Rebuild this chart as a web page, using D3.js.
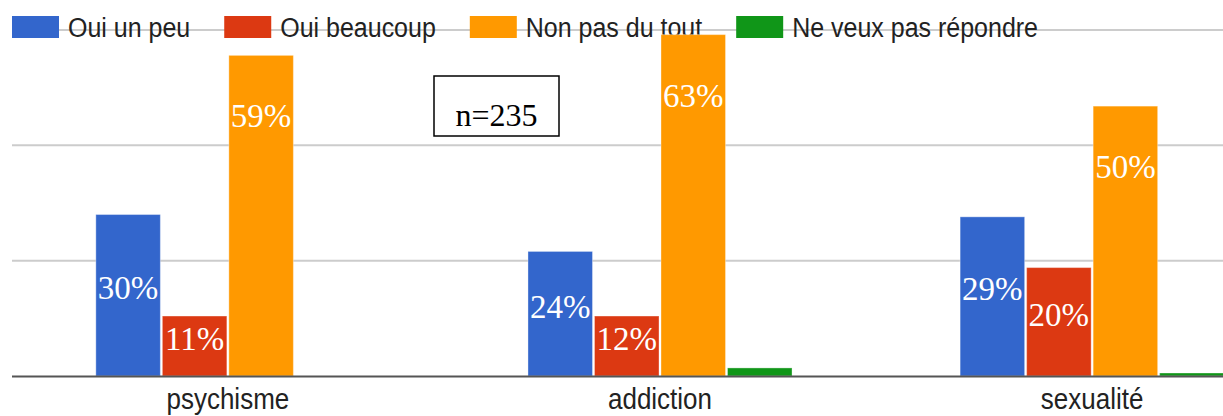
<!DOCTYPE html>
<html>
<head>
<meta charset="utf-8">
<script src="https://cdn.jsdelivr.net/npm/d3@7"></script>
<style>
  body { margin: 0; background: #fff; }
  svg { display: block; }
</style>
</head>
<body>
<svg id="chart"></svg>
<script>
// Categories and series (bar heights are respondent counts, n=235)
const categories = ["psychisme", "addiction", "sexualité"];
const seriesNames = ["Oui un peu", "Oui beaucoup", "Non pas du tout", "Ne veux pas répondre"];
const seriesColors = ["#3366cc", "#dc3912", "#ff9900", "#109618"];

const ouiUnPeu = [70, 54, 69];
const ouiBeaucoup = [26, 26, 47];
const nonPasDuTout = [139, 148, 117];
const neVeuxPas = [0, 3.5, 1.3];

// Percent labels written on the bars
const ouiUnPeuPct = ["30%", "24%", "29%"];
const ouiBeaucoupPct = ["11%", "12%", "20%"];
const nonPasDuToutPct = ["59%", "63%", "50%"];

const gridTicks = [50, 100, 150];
const sampleNote = "n=235";

const values = [ouiUnPeu, ouiBeaucoup, nonPasDuTout, neVeuxPas];
const pctLabels = [ouiUnPeuPct, ouiBeaucoupPct, nonPasDuToutPct, null];

const width = 1223, height = 416;
const svg = d3.select("#chart").attr("width", width).attr("height", height);

// Scales
const x0 = d3.scaleBand()
    .domain(categories)
    .range([12, 1308])
    .paddingInner(0.389)
    .paddingOuter(0.194);

const x1 = d3.scaleBand()
    .domain(seriesNames)
    .range([0, x0.bandwidth()])
    .paddingInner(0.03);

const y = d3.scaleLinear()
    .domain([0, 150])
    .range([376, 30]);

// Gridlines
svg.append("g")
    .selectAll("line")
    .data(gridTicks)
    .enter().append("line")
    .attr("x1", 12)
    .attr("x2", width)
    .attr("y1", d => y(d))
    .attr("y2", d => y(d))
    .attr("stroke", "#cccccc")
    .attr("stroke-width", 2);

// Legend (the chart image is a bit stretched vertically, so texts get a scaleY)
const legend = svg.append("g");
let lx = 12;
seriesNames.forEach((name, i) => {
    legend.append("rect")
        .attr("x", lx)
        .attr("y", 16)
        .attr("width", 47)
        .attr("height", 22)
        .attr("fill", seriesColors[i]);
    const t = legend.append("text")
        .attr("transform", "translate(" + (lx + 56) + ",37) scale(1,1.08)")
        .attr("font-family", "Liberation Sans, Arial, sans-serif")
        .attr("font-size", 25)
        .attr("fill", "#222")
        .text(name);
    lx += 56 + t.node().getComputedTextLength() + 34;
});

// Bars
const groups = svg.append("g")
    .selectAll("g")
    .data(categories)
    .enter().append("g")
    .attr("transform", d => "translate(" + x0(d) + ",0)");

groups.selectAll("rect")
    .data((c, ci) => seriesNames.map((s, si) => ({series: s, si: si, value: values[si][ci]})))
    .enter().append("rect")
    .attr("x", d => x1(d.series))
    .attr("y", d => y(d.value))
    .attr("width", x1.bandwidth())
    .attr("height", d => y(0) - y(d.value))
    .attr("fill", d => seriesColors[d.si])
    .attr("stroke", "#fff")
    .attr("stroke-opacity", 0.35)
    .attr("stroke-width", 1);

// Baseline axis
svg.append("line")
    .attr("x1", 12)
    .attr("x2", width)
    .attr("y1", y(0) + 0.5)
    .attr("y2", y(0) + 0.5)
    .attr("stroke", "#555")
    .attr("stroke-width", 2);

// Category labels
svg.append("g")
    .selectAll("text")
    .data(categories)
    .enter().append("text")
    .attr("transform", d => "translate(" + (x0(d) + x0.bandwidth() / 2) + ",409) scale(1,1.12)")
    .attr("text-anchor", "middle")
    .attr("font-family", "Liberation Sans, Arial, sans-serif")
    .attr("font-size", 26)
    .attr("fill", "#222")
    .text(d => d);

// Percent labels: short bars centered, tall bars near the top
groups.selectAll("text.pct")
    .data((c, ci) => seriesNames.map((s, si) => ({series: s, value: values[si][ci], label: pctLabels[si] ? pctLabels[si][ci] : null}))
        .filter(d => d.label))
    .enter().append("text")
    .attr("class", "pct")
    .attr("x", d => x1(d.series) + x1.bandwidth() / 2)
    .attr("y", d => d.value > 100 ? y(d.value) + 72 : (y(d.value) + y(0)) / 2 + 4)
    .attr("text-anchor", "middle")
    .attr("font-family", "Liberation Serif, Times New Roman, serif")
    .attr("font-size", 33)
    .attr("fill", "#fff")
    .text(d => d.label);

// n box
const note = svg.append("g").attr("transform", "translate(434,76)");
note.append("rect")
    .attr("width", 125)
    .attr("height", 60)
    .attr("fill", "#fff")
    .attr("stroke", "#000")
    .attr("stroke-width", 1.5);
note.append("text")
    .attr("x", 62.5)
    .attr("y", 50)
    .attr("text-anchor", "middle")
    .attr("font-family", "Liberation Serif, Times New Roman, serif")
    .attr("font-size", 32)
    .attr("fill", "#000")
    .text(sampleNote);
</script>
</body>
</html>
